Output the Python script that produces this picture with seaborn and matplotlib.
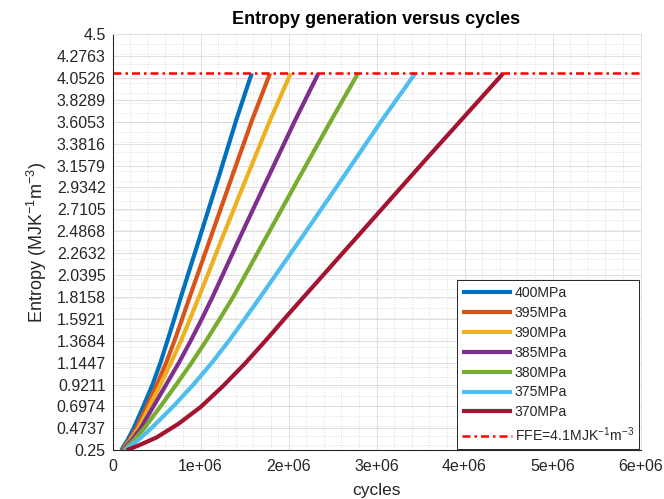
import numpy as np
import pandas as pd
import matplotlib
matplotlib.use("Agg")
import matplotlib.pyplot as plt
from matplotlib.ticker import MultipleLocator, FixedLocator
import seaborn as sns

# Entropy (MJ K^-1 m^-3) accumulated over loading cycles, per stress amplitude
stress_labels = ["400MPa", "395MPa", "390MPa", "385MPa", "380MPa", "375MPa", "370MPa"]

entropy_levels = [0.25, 0.36, 0.4737, 0.6974, 0.9211, 1.1447, 1.37, 1.6, 1.822, 2.448, 3.05, 3.62, 4.1]

cycles_400 = [0.10e6, 0.175e6, 0.24e6, 0.35e6, 0.455e6, 0.545e6, 0.625e6, 0.705e6, 0.78e6, 1.0e6, 1.21e6, 1.405e6, 1.582e6]
cycles_395 = [0.11e6, 0.195e6, 0.27e6, 0.39e6, 0.505e6, 0.61e6, 0.705e6, 0.795e6, 0.88e6, 1.125e6, 1.36e6, 1.585e6, 1.79e6]
cycles_390 = [0.12e6, 0.21e6, 0.295e6, 0.42e6, 0.545e6, 0.665e6, 0.78e6, 0.885e6, 0.985e6, 1.26e6, 1.53e6, 1.79e6, 2.025e6]
cycles_385 = [0.12e6, 0.225e6, 0.32e6, 0.465e6, 0.61e6, 0.755e6, 0.89e6, 1.02e6, 1.14e6, 1.46e6, 1.775e6, 2.075e6, 2.34e6]
cycles_380 = [0.13e6, 0.25e6, 0.36e6, 0.545e6, 0.725e6, 0.90e6, 1.065e6, 1.225e6, 1.375e6, 1.76e6, 2.13e6, 2.485e6, 2.79e6]
cycles_375 = [0.14e6, 0.30e6, 0.44e6, 0.69e6, 0.92e6, 1.13e6, 1.325e6, 1.51e6, 1.685e6, 2.17e6, 2.63e6, 3.06e6, 3.44e6]

# the 370MPa run is sampled on its own cycle grid
cycles_370 = [0.16e6, 0.30e6, 0.50e6, 0.75e6, 1.0e6, 1.25e6, 1.5e6, 1.75e6, 2.0e6, 2.8e6, 3.6e6, 4.44e6]
entropy_370 = [0.25, 0.30, 0.38, 0.52, 0.69, 0.90, 1.13, 1.38, 1.64, 2.45, 3.26, 4.1]

ffe_value = 4.1
ffe_label = "FFE=4.1MJK$^{-1}$m$^{-3}$"

title_text = "Entropy generation versus cycles"
x_label = "cycles"
y_label = "Entropy (MJK$^{-1}$m$^{-3}$)"

x_ticks = [0, 1e6, 2e6, 3e6, 4e6, 5e6, 6e6]
x_tick_labels = ["0", "1e+06", "2e+06", "3e+06", "4e+06", "5e+06", "6e+06"]
y_ticks = [0.25, 0.4737, 0.6974, 0.9211, 1.1447, 1.3684, 1.5921, 1.8158, 2.0395,
           2.2632, 2.4868, 2.7105, 2.9342, 3.1579, 3.3816, 3.6053, 3.8289, 4.0526,
           4.2763, 4.5]
y_tick_labels = ["0.25", "0.4737", "0.6974", "0.9211", "1.1447", "1.3684", "1.5921",
                 "1.8158", "2.0395", "2.2632", "2.4868", "2.7105", "2.9342", "3.1579",
                 "3.3816", "3.6053", "3.8289", "4.0526", "4.2763", "4.5"]

series = [
    (cycles_400, entropy_levels),
    (cycles_395, entropy_levels),
    (cycles_390, entropy_levels),
    (cycles_385, entropy_levels),
    (cycles_380, entropy_levels),
    (cycles_375, entropy_levels),
    (cycles_370, entropy_370),
]
frames = []
for lab, (cx, ey) in zip(stress_labels, series):
    frames.append(pd.DataFrame({"cycles": cx, "entropy": ey, "stress": lab}))
df = pd.concat(frames, ignore_index=True)

palette = ["#0072BD", "#D95319", "#EDB120", "#7E2F8E", "#77AC30", "#4DBEEE", "#A2142F"]
ffe_color = "#FF0000"
ffe_dash = (0, (3.2, 1.6, 1.0, 1.6))
curve_lw = 3.0

sns.set_theme(style="white")
plt.rcParams["font.family"] = ["Liberation Sans", "DejaVu Sans"]
plt.rcParams["mathtext.fontset"] = "custom"
plt.rcParams["mathtext.rm"] = "Liberation Sans"
plt.rcParams["mathtext.it"] = "Liberation Sans"

fig = plt.figure(figsize=(6.64, 4.99), dpi=100)
ax = fig.add_axes([112.5 / 664, (499 - 450.2) / 499, 528 / 664, 416 / 499])

sns.lineplot(data=df, x="cycles", y="entropy", hue="stress", hue_order=stress_labels,
             palette=palette, linewidth=curve_lw, sort=False, estimator=None, ax=ax,
             legend=False)
for line in ax.get_lines():
    line.set_solid_capstyle("butt")
    line.set_solid_joinstyle("round")
ax.axhline(ffe_value, color=ffe_color, linestyle=ffe_dash, linewidth=1.8)

ax.set_xlim(0, 6e6)
ax.set_ylim(0.25, 4.5)
ax.xaxis.set_major_locator(FixedLocator(x_ticks))
ax.set_xticklabels(x_tick_labels)
ax.yaxis.set_major_locator(FixedLocator(y_ticks))
ax.set_yticklabels(y_tick_labels)
ax.xaxis.set_minor_locator(MultipleLocator(2e5))
ax.yaxis.set_minor_locator(MultipleLocator(0.1))

ax.grid(which="major", color="#DEDEDE", linewidth=0.7)
ax.grid(which="minor", color="#D2D2D2", linewidth=0.6, linestyle=(0, (1, 2)))
ax.set_axisbelow(True)

for side in ["left", "bottom"]:
    ax.spines[side].set_color("#262626")
    ax.spines[side].set_linewidth(0.8)
for side in ["top", "right"]:
    ax.spines[side].set_color("#DEDEDE")
    ax.spines[side].set_linewidth(0.7)

ax.tick_params(axis="both", which="major", direction="in", length=4, width=0.7,
               colors="#262626", labelsize=11.5, labelcolor="#262626")
ax.tick_params(axis="x", which="major", pad=6)
ax.tick_params(axis="y", which="major", pad=5)
ax.tick_params(axis="both", which="minor", length=0)

ax.set_title(title_text, fontsize=13, fontweight="bold", color="#000000", pad=7)
ax.set_xlabel(x_label, fontsize=12.5, color="#262626", labelpad=7)
ax.set_ylabel(y_label, fontsize=13, color="#262626", labelpad=5)

handles = [plt.Line2D([], [], color=c, linewidth=curve_lw, solid_capstyle="butt") for c in palette]
handles.append(plt.Line2D([], [], color=ffe_color, linestyle=ffe_dash, linewidth=1.8))
leg = ax.legend(handles, stress_labels + [ffe_label], loc="lower right",
                bbox_to_anchor=(0.998, 0.002), fontsize=10.2, frameon=True, fancybox=False,
                handlelength=3.5, handletextpad=0.2, labelspacing=0.42, borderpad=0.38,
                borderaxespad=0.0)
leg.get_frame().set_edgecolor("#262626")
leg.get_frame().set_linewidth(0.7)
leg.get_frame().set_facecolor("white")
leg.get_frame().set_alpha(1.0)

fig.savefig("out.png", dpi=100, facecolor="white")
